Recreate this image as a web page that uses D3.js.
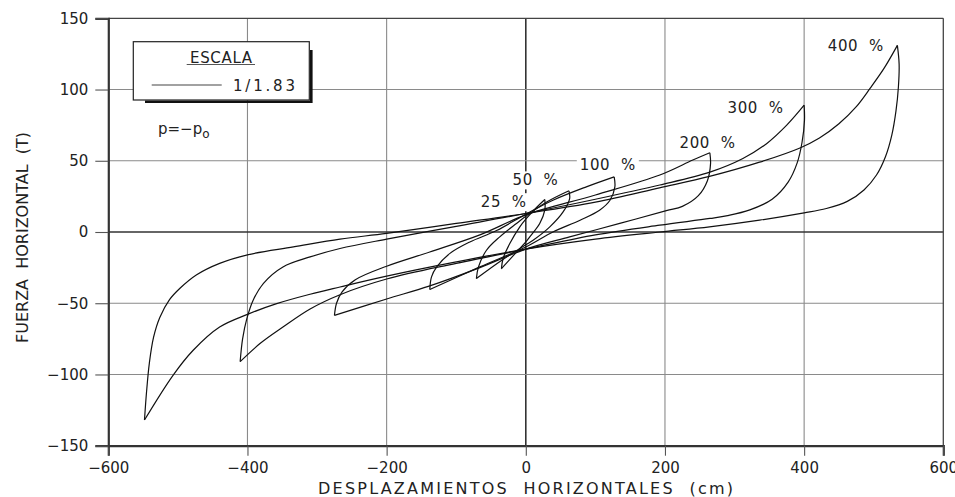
<!DOCTYPE html>
<html><head><meta charset="utf-8">
<script src="https://cdn.jsdelivr.net/npm/d3@7"></script>
<style>
body{margin:0;background:#fff;}
text{font-family:"DejaVu Sans",sans-serif;fill:#222;}
</style></head>
<body><svg id="c" width="955" height="497"></svg>
<script>
// ---- data ----
const xTicks = [-600,-400,-200,0,200,400,600];
const yTicks = [-150,-100,-50,0,50,100,150];
const loopLabels = ["25  %","50  %","100  %","200  %","300  %","400  %"];
const labelPos = [[-64.7,21.1],[-19,36.4],[77.6,47],[221,62.9],[290,87.5],[434,130.5]];

const up400 = [[-548,-132],[-545,-112],[-541,-92],[-535,-74],[-526,-60],[-512,-47.5],[-497,-39.5],[-473,-30],[-440,-22],[-400,-16],[-334,-10.5],[-267,-5],[-200,-1],[-100,6],[0,13],[100,21],[192,31],[264,39],[336,49],[394,59],[422,66],[450,76],[475,88],[495,101],[515,115],[534,131]];
const dn400 = [[534,131],[536.5,118],[535.5,102],[532,85],[526,68],[517,53],[504,40],[486,29.5],[462,21.5],[432,16.5],[400,13.4],[336,8.3],[264,3.6],[193,0],[100,-5],[0,-12],[-100,-21],[-200,-31],[-267,-38.6],[-310,-43.7],[-358,-50.3],[-400,-57.8],[-440,-66.7],[-478,-83],[-507,-100.6],[-548,-132]];
const up300 = [[-410.5,-91],[-407,-75],[-401,-61],[-392,-48],[-377,-36],[-349,-24.5],[-310,-17.5],[-267,-11.6],[-200,-5],[-100,4],[0,13],[100,23],[192.6,33],[264.5,42],[312,51.6],[346,62],[375,75],[400,89]];
const dn300 = [[400,89],[400.5,78.5],[397,63],[390,48.5],[377,35],[354,23],[322,15.5],[290,11.5],[264.5,9.5],[192.6,4.8],[100,-2],[0,-12],[-100,-22],[-200,-33],[-267,-44],[-310,-54],[-349,-66.7],[-382,-78.3],[-410.5,-91]];
const up200 = [[-275,-58.5],[-272,-50],[-264,-42],[-245,-33.5],[-200,-24],[-138,-14],[-66,-2],[0,12],[100,26],[192.6,40],[240,50.5],[264.5,55.6]];
const dn200 = [[264.5,55.6],[265.5,48],[261,36],[248,25.5],[225,18],[202,15],[135,6],[63,-3.4],[0,-12],[-66,-25],[-139,-38],[-200,-47],[-275,-58.5]];
const up100 = [[-138,-40.4],[-135.5,-31.5],[-128,-24.5],[-109,-15],[-80.5,-7],[-42,1],[0,12.5],[39,22.3],[87,31.7],[127,38.7]];
const dn100 = [[127,38.7],[128,31.7],[121,22.3],[106,15.3],[78,8.3],[39,0],[0,-10.5],[-66,-24.5],[-138,-40.4]];
const up50 = [[-71,-32.7],[-68,-24.5],[-56.5,-12.8],[-37.4,-3.4],[-13.4,6],[0,11],[30,21],[62,28.9]];
const dn50 = [[62,28.9],[63,23.5],[53.6,14.1],[34.5,3.6],[10.5,-5.8],[0,-9],[-35,-20],[-71,-32.7]];
const up25 = [[-35,-25.7],[-32.6,-18.6],[-23,-8.1],[-8.6,3.6],[0,9],[14,16.5],[27.3,22.8]];
const dn25 = [[27.3,22.8],[27.3,15.3],[20,6],[5.7,-3.4],[0,-7],[-15,-15],[-35,-25.7]];
const branches = [up400,dn400,up300,dn300,up200,dn200,up100,dn100,up50,dn50,up25,dn25];

// ---- layout ----
const L=108.3,R=943.3,T=18.3,B=445.7;
const x = d3.scaleLinear().domain([-600,600]).range([L,R]);
const y = d3.scaleLinear().domain([-150,150]).range([B,T]);
const svg = d3.select("#c");

// grid
const g = svg.append("g");
g.selectAll("line.vx").data(xTicks.filter(v=>v>-600&&v<600)).join("line")
 .attr("x1",d=>x(d)).attr("x2",d=>x(d)).attr("y1",T).attr("y2",B)
 .attr("stroke",d=>d===0?"#333":"#8a8a8a").attr("stroke-width",d=>d===0?1.6:1.1);
g.selectAll("line.hy").data(yTicks.filter(v=>v>-150&&v<150)).join("line")
 .attr("y1",d=>y(d)).attr("y2",d=>y(d)).attr("x1",L).attr("x2",R)
 .attr("stroke",d=>d===0?"#333":"#8a8a8a").attr("stroke-width",d=>d===0?1.6:1.1);

// frame top/right
svg.append("line").attr("x1",L).attr("x2",R).attr("y1",T).attr("y2",T).attr("stroke","#444").attr("stroke-width",1.3);
svg.append("line").attr("x1",R).attr("x2",R).attr("y1",T).attr("y2",B).attr("stroke","#444").attr("stroke-width",1.3);

// axes
const ax = svg.append("g").attr("transform",`translate(0,${B})`)
 .call(d3.axisBottom(x).tickValues(xTicks).tickSize(10).tickPadding(7).tickFormat(d=>d<0?"\u2212"+(-d):d));
const ay = svg.append("g").attr("transform",`translate(${L},0)`)
 .call(d3.axisLeft(y).tickValues(yTicks).tickSize(13).tickPadding(7).tickFormat(d=>d<0?"\u2212"+(-d):d));
[ax,ay].forEach(a=>{
 a.select(".domain").attr("stroke","#333").attr("stroke-width",2.2);
 a.selectAll(".tick line").attr("stroke","#555").attr("stroke-width",1.1);
 a.selectAll("text").style("font-family","DejaVu Sans").style("font-size","15px").attr("fill","#222");
});

// curves
const line = d3.line().x(d=>x(d[0])).y(d=>y(d[1])).curve(d3.curveCatmullRom.alpha(0.5));
svg.append("g").selectAll("path").data(branches).join("path")
 .attr("d",line).attr("fill","none").attr("stroke","#111").attr("stroke-width",1.2);

// loop labels with white background
loopLabels.forEach((t,i)=>{
 const gg = svg.append("g");
 const tx = gg.append("text").attr("x",x(labelPos[i][0])).attr("y",y(labelPos[i][1]))
   .attr("dy","0.35em").style("white-space","pre").style("font-size","15px").style("letter-spacing","0.6px").text(t);
 const bb = tx.node().getBBox();
 gg.insert("rect","text").attr("x",bb.x-3).attr("y",bb.y).attr("width",bb.width+6).attr("height",bb.height).attr("fill","#fff");
});

// legend
svg.append("polyline").attr("points","145,101.8 311.3,101.8 311.3,50").attr("fill","none").attr("stroke","#111").attr("stroke-width",2.6);
svg.append("rect").attr("x",133.3).attr("y",41.7).attr("width",176).attr("height",58.3).attr("fill","#fff").attr("stroke","#222").attr("stroke-width",1.2);
svg.append("text").attr("x",221).attr("y",57.7).attr("dy","0.35em").attr("text-anchor","middle").attr("textLength",62).attr("lengthAdjust","spacing").style("font-size","15px").text("ESCALA");
svg.append("line").attr("x1",186.7).attr("x2",255).attr("y1",64.5).attr("y2",64.5).attr("stroke","#555").attr("stroke-width",1);
svg.append("line").attr("x1",151.7).attr("x2",221.7).attr("y1",85).attr("y2",85).attr("stroke","#444").attr("stroke-width",1.1);
svg.append("text").attr("x",233).attr("y",86).attr("dy","0.35em").attr("textLength",62).attr("lengthAdjust","spacing").style("font-size","15px").text("1/1.83");

// p = -p_o
const pt = svg.append("text").attr("x",158).attr("y",129).attr("dy","0.35em").style("font-size","15px");
pt.append("tspan").text("p=\u2212p");
pt.append("tspan").attr("dy","4").style("font-size","12px").text("o");

// axis titles
svg.append("text").attr("x",318).attr("y",488).attr("dy","0.35em").attr("textLength",415).attr("lengthAdjust","spacing")
 .style("white-space","pre").style("font-size","16px").text("DESPLAZAMIENTOS  HORIZONTALES  (cm)");
svg.append("text").attr("transform","translate(22,237.5) rotate(-90)").attr("text-anchor","middle").attr("dy","0.35em")
 .attr("textLength",211).attr("lengthAdjust","spacing").style("white-space","pre").style("font-size","16px").text("FUERZA  HORIZONTAL  (T)");
</script></body></html>
